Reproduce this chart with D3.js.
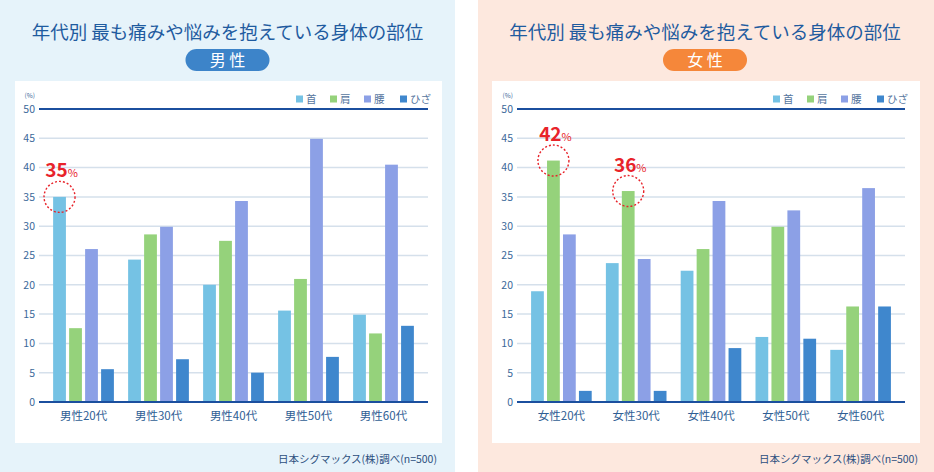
<!DOCTYPE html>
<html><head><meta charset="utf-8">
<script src="https://cdn.jsdelivr.net/npm/d3@7"></script>
<style>
html,body{margin:0;padding:0;background:#fff;}
svg{display:block;font-family:"Noto Sans CJK JP","Noto Sans",sans-serif;}
</style></head>
<body><svg id="c" width="934" height="472"></svg>
<script>
// ---- data ----
const titleText = "年代別 最も痛みや悩みを抱えている身体の部位";
const ageGroups = ["20代", "30代", "40代", "50代", "60代"];
const parts = ["首", "肩", "腰", "ひざ"];
const partColors = ["#75c2e4", "#95d27b", "#8ca0e6", "#3f87cd"];
const yTicks = [0, 5, 10, 15, 20, 25, 30, 35, 40, 45, 50];

const maleNeck     = [35.0, 24.3, 20.0, 15.6, 14.9];
const maleShoulder = [12.6, 28.6, 27.5, 21.0, 11.7];
const maleBack     = [26.1, 29.9, 34.3, 44.9, 40.5];
const maleKnee     = [5.6, 7.3, 5.0, 7.7, 13.0];

const femaleNeck     = [18.9, 23.7, 22.4, 11.1, 8.9];
const femaleShoulder = [41.2, 36.0, 26.1, 29.9, 16.3];
const femaleBack     = [28.6, 24.4, 34.3, 32.7, 36.5];
const femaleKnee     = [1.9, 1.9, 9.2, 10.8, 16.3];

// highlighted bars: [group index, part index, label]
const maleHighlights = [[0, 0, "35"]];
const femaleHighlights = [[0, 1, "42"], [1, 1, "36"]];

const sourceText = "日本シグマックス(株)調べ(n=500)";

const panels = [
  { sex: "男性", pill: "男 性", series: [maleNeck, maleShoulder, maleBack, maleKnee], hl: maleHighlights,
    x0: 0, w: 455, bg: "#e6f3fa", pillColor: "#3d84c9", box: [15, 442], plot: [39, 428], center: 227.5, srcX: 437 },
  { sex: "女性", pill: "女 性", series: [femaleNeck, femaleShoulder, femaleBack, femaleKnee], hl: femaleHighlights,
    x0: 478, w: 456, bg: "#fde8de", pillColor: "#f5873a", box: [492, 920], plot: [517, 905], center: 705, srcX: 918 }
];

const svg = d3.select("#c");
const yTop = 109, yBottom = 402;
const y = d3.scaleLinear().domain([0, 50]).range([yBottom, yTop]);

panels.forEach(p => {
  const g = svg.append("g");
  g.append("rect").attr("x", p.x0).attr("y", 0).attr("width", p.w).attr("height", 472).attr("fill", p.bg);
  g.append("rect").attr("x", p.box[0]).attr("y", 81).attr("width", p.box[1] - p.box[0]).attr("height", 362).attr("fill", "#ffffff");

  // title
  g.append("text").attr("x", p.center).attr("y", 39).attr("text-anchor", "middle")
    .attr("font-size", 18.5).attr("fill", "#1f5b9f").text(titleText);
  // pill
  g.append("rect").attr("x", p.center - 42).attr("y", 49).attr("width", 84).attr("height", 22)
    .attr("rx", 11).attr("fill", p.pillColor);
  g.append("text").attr("x", p.center).attr("y", 66).attr("text-anchor", "middle")
    .attr("font-size", 16).attr("fill", "#ffffff").text(p.pill);

  const [pl, pr] = p.plot;
  // gridlines
  g.append("g").selectAll("line").data(yTicks.filter(t => t !== 0 && t !== 50)).join("line")
    .attr("x1", pl).attr("x2", pr).attr("y1", d => y(d)).attr("y2", d => y(d))
    .attr("stroke", "#d5e0eb").attr("stroke-width", 1.5);

  // y axis tick labels
  const yAxis = d3.axisLeft(y).tickValues(yTicks).tickSize(0).tickPadding(4);
  const ya = g.append("g").attr("transform", `translate(${pl},0)`).call(yAxis);
  ya.select(".domain").remove();
  ya.selectAll("text").attr("font-size", 10.5).attr("fill", "#3b6899")
    .attr("font-family", "\"Noto Sans CJK JP\",sans-serif");
  g.append("text").attr("x", pl - 4).attr("y", 98).attr("text-anchor", "end")
    .attr("font-size", 6.5).attr("fill", "#3b6899").text("(%)");

  // groups
  const x0 = d3.scaleBand().domain(ageGroups).range([pl, pr]).paddingInner(0.147).paddingOuter(0.167);
  const x1 = d3.scaleBand().domain(parts).range([0, x0.bandwidth()]).paddingInner(0.2).paddingOuter(0.1);

  const rows = [];
  ageGroups.forEach((a, i) => parts.forEach((pt, j) => rows.push({ a, pt, j, v: p.series[j][i] })));
  g.append("g").selectAll("rect").data(rows).join("rect")
    .attr("x", d => x0(d.a) + x1(d.pt)).attr("width", x1.bandwidth())
    .attr("y", d => y(d.v)).attr("height", d => y(0) - y(d.v))
    .attr("fill", d => partColors[d.j]);

  // axis lines 50 and 0
  [50, 0].forEach(t => {
    g.append("line").attr("x1", pl).attr("x2", pr).attr("y1", y(t)).attr("y2", y(t))
      .attr("stroke", "#1b4f9e").attr("stroke-width", 2);
  });

  // x labels
  const xAxis = d3.axisBottom(x0).tickSize(0).tickPadding(10).tickFormat(d => p.sex + d);
  const xa = g.append("g").attr("transform", `translate(0,${yBottom})`).call(xAxis);
  xa.select(".domain").remove();
  xa.selectAll("text").attr("font-size", 11.5).attr("fill", "#2f5e94")
    .attr("font-family", "\"Noto Sans CJK JP\",sans-serif");

  // legend
  const legOff = [-132, -98, -64, -28];
  parts.forEach((pt, j) => {
    const lx = pr + legOff[j];
    g.append("rect").attr("x", lx).attr("y", 95.5).attr("width", 7).attr("height", 7).attr("fill", partColors[j]);
    g.append("text").attr("x", lx + 10).attr("y", 103).attr("font-size", 10.5).attr("fill", "#56769e").text(pt);
  });

  // highlights
  p.hl.forEach(([gi, pj, label]) => {
    const a = ageGroups[gi], pt = parts[pj];
    const cx = x0(a) + x1(pt) + x1.bandwidth() / 2;
    const cy = y(p.series[pj][gi]);
    g.append("circle").attr("cx", cx).attr("cy", cy).attr("r", 15.5)
      .attr("fill", "none").attr("stroke", "#e8232a").attr("stroke-width", 1.4).attr("stroke-dasharray", "2,2");
    const t = g.append("text").attr("x", cx + 2).attr("y", cy - 19.5).attr("text-anchor", "middle")
      .attr("fill", "#e8232a").attr("font-weight", "bold");
    t.append("tspan").attr("font-size", 19).text(label);
    t.append("tspan").attr("font-size", 11).attr("font-weight", "normal").text("%");
  });

  // source
  g.append("text").attr("x", p.srcX).attr("y", 463).attr("text-anchor", "end")
    .attr("font-size", 10.5).attr("fill", "#2c4f7e").text(sourceText);
});
</script></body></html>
